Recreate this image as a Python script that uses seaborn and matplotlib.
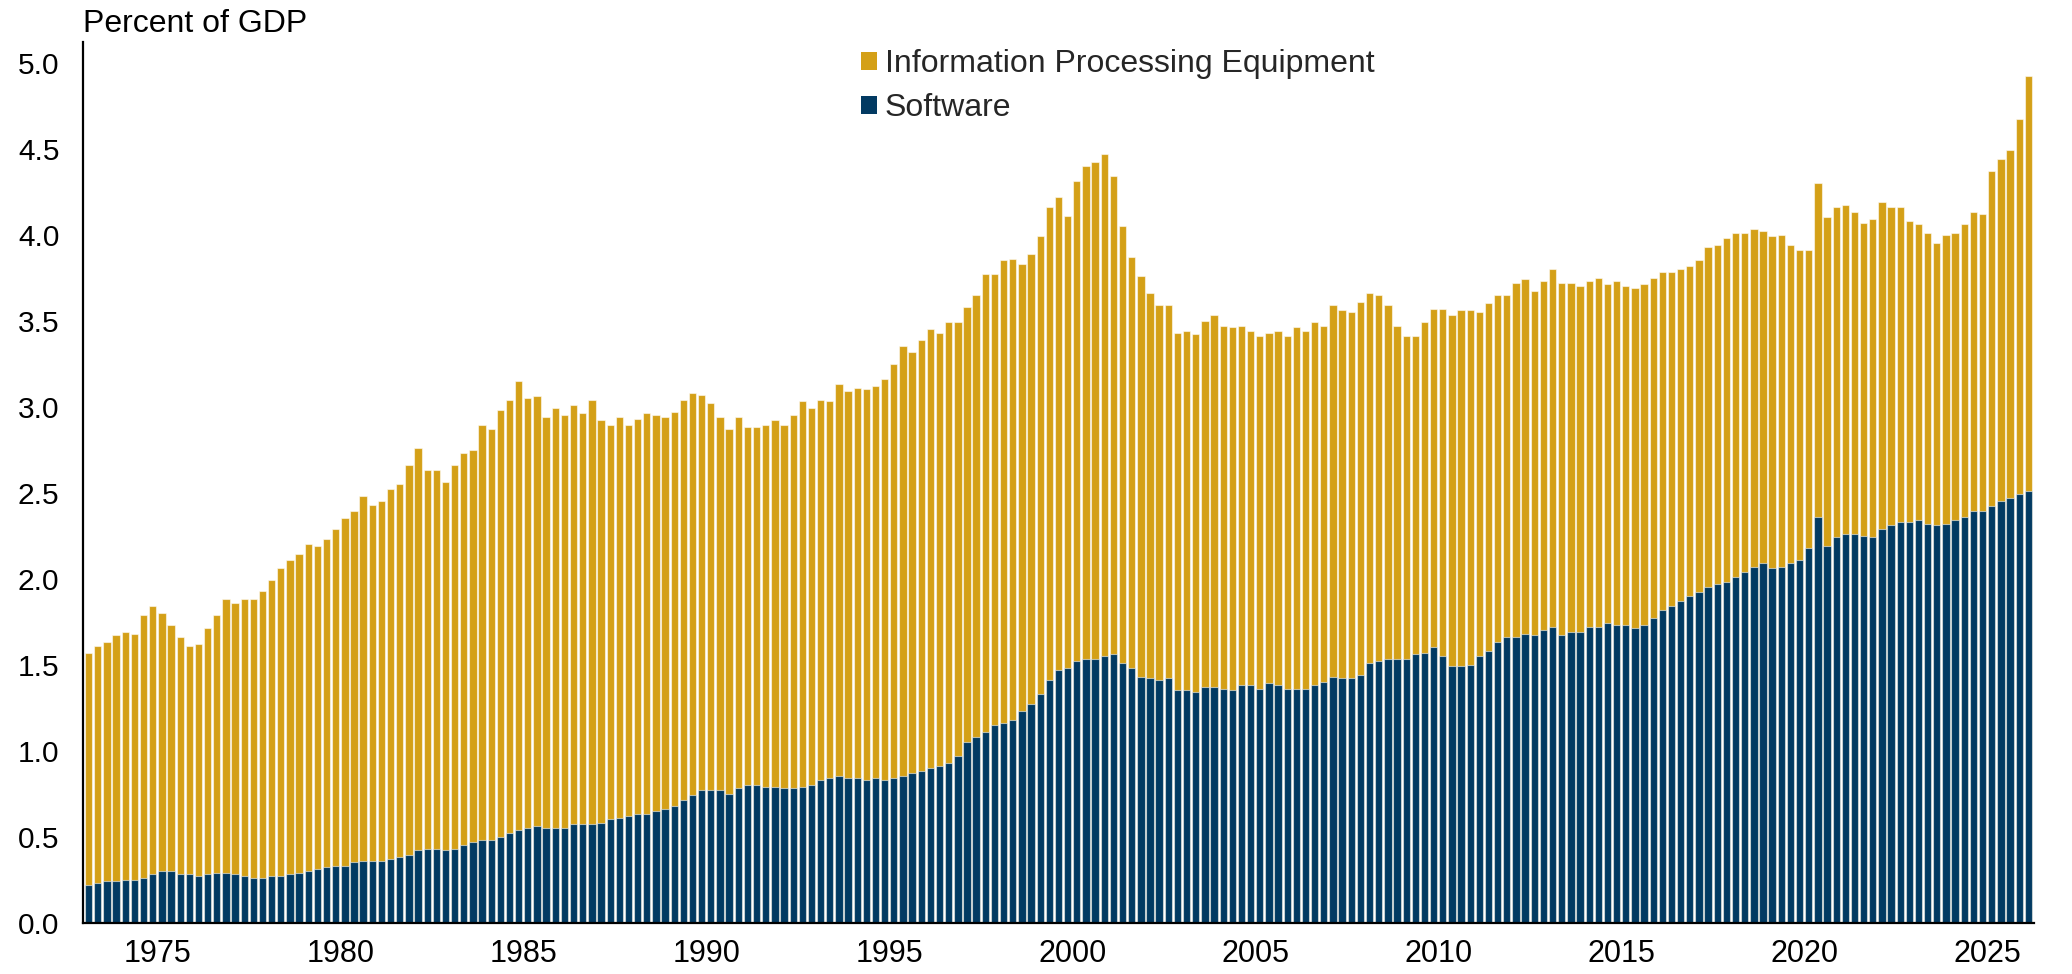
import numpy as np
import pandas as pd
import matplotlib
matplotlib.use("Agg")
import matplotlib.pyplot as plt
from matplotlib.patches import Patch
import seaborn as sns

# ---------------- data (percent of GDP, quarterly 1973Q1 - 2026Q1) ----------------
start_year = 1973
total = [  # Information processing equipment + software (top of stacked bar)
    1.57, 1.61, 1.63, 1.67, 1.69, 1.68, 1.79, 1.84, 1.80, 1.73,
    1.66, 1.61, 1.62, 1.71, 1.79, 1.88, 1.86, 1.88, 1.88, 1.93,
    1.99, 2.06, 2.11, 2.14, 2.20, 2.19, 2.23, 2.29, 2.35, 2.39,
    2.48, 2.43, 2.45, 2.52, 2.55, 2.66, 2.76, 2.63, 2.63, 2.56,
    2.66, 2.73, 2.75, 2.89,
    2.87, 2.98, 3.04, 3.15, 3.05, 3.06, 2.94, 2.99, 2.95, 3.01,
    2.96, 3.04, 2.92, 2.89, 2.94, 2.89, 2.93, 2.96, 2.95, 2.94,
    2.97, 3.04, 3.08, 3.07, 3.02, 2.94, 2.87, 2.94, 2.88, 2.88,
    2.89, 2.92, 2.89, 2.95, 3.03, 2.99, 3.04, 3.03, 3.13, 3.09,
    3.11, 3.10,
    3.12, 3.16, 3.25, 3.35, 3.32, 3.39, 3.45, 3.43, 3.49, 3.49,
    3.58, 3.65, 3.77, 3.77, 3.85, 3.86, 3.83, 3.89, 3.99, 4.16,
    4.22, 4.11, 4.31, 4.40, 4.42, 4.47, 4.34, 4.05, 3.87, 3.76,
    3.66, 3.59, 3.59, 3.43, 3.44, 3.42, 3.50, 3.53, 3.47, 3.46,
    3.47, 3.44, 3.41,
    3.43, 3.44, 3.41, 3.46, 3.44, 3.49, 3.47, 3.59, 3.56, 3.55,
    3.61, 3.66, 3.65, 3.59, 3.47, 3.41, 3.41, 3.49, 3.57, 3.57,
    3.53, 3.56, 3.56, 3.55, 3.60, 3.65, 3.65, 3.72, 3.74, 3.67,
    3.73, 3.80, 3.72, 3.72, 3.70, 3.73, 3.75, 3.71, 3.73, 3.70,
    3.69, 3.71,
    3.75, 3.78, 3.78, 3.80, 3.82, 3.85, 3.93, 3.94, 3.98, 4.01,
    4.01, 4.03, 4.02, 3.99, 4.00, 3.94, 3.91, 3.91, 4.30, 4.10,
    4.16, 4.17, 4.13, 4.07, 4.09, 4.19, 4.16, 4.16, 4.08, 4.06,
    4.01, 3.95, 4.00, 4.01, 4.06, 4.13, 4.12, 4.37, 4.44, 4.49,
    4.67, 4.92,
]
software = [
    0.22, 0.23, 0.24, 0.24, 0.25, 0.25, 0.26, 0.28, 0.30, 0.30,
    0.28, 0.28, 0.27, 0.28, 0.29, 0.29, 0.28, 0.27, 0.26, 0.26,
    0.27, 0.27, 0.28, 0.29, 0.30, 0.31, 0.32, 0.33, 0.33, 0.35,
    0.36, 0.36, 0.36, 0.37, 0.38, 0.39, 0.42, 0.43, 0.43, 0.42,
    0.43, 0.45, 0.47,
    0.48, 0.48, 0.50, 0.52, 0.54, 0.55, 0.56, 0.55, 0.55, 0.55,
    0.57, 0.57, 0.57, 0.58, 0.60, 0.61, 0.62, 0.63, 0.63, 0.65,
    0.66, 0.68, 0.71, 0.74, 0.77, 0.77, 0.77, 0.75, 0.78, 0.80,
    0.80, 0.79, 0.79, 0.78, 0.78, 0.79, 0.80, 0.83, 0.84, 0.85,
    0.84, 0.84, 0.83,
    0.84, 0.83, 0.84, 0.85, 0.87, 0.88, 0.90, 0.91, 0.93, 0.97,
    1.05, 1.08, 1.11, 1.15, 1.16, 1.18, 1.23, 1.27, 1.33, 1.41,
    1.47, 1.48, 1.52, 1.53, 1.53, 1.55, 1.56, 1.51, 1.48, 1.43,
    1.42, 1.41, 1.42, 1.35, 1.35, 1.34, 1.37, 1.37, 1.36, 1.35,
    1.38, 1.38, 1.36,
    1.39, 1.38, 1.36, 1.36, 1.36, 1.38, 1.40, 1.43, 1.42, 1.42,
    1.44, 1.51, 1.52, 1.53, 1.53, 1.53, 1.56, 1.57, 1.60, 1.55,
    1.49, 1.49, 1.50, 1.55, 1.58, 1.63, 1.66, 1.66, 1.68, 1.67,
    1.70, 1.72, 1.67, 1.69, 1.69, 1.72, 1.72, 1.74, 1.73, 1.73,
    1.71, 1.73,
    1.77, 1.82, 1.84, 1.87, 1.90, 1.92, 1.95, 1.97, 1.98, 2.01,
    2.04, 2.07, 2.09, 2.06, 2.07, 2.09, 2.11, 2.18, 2.36, 2.19,
    2.24, 2.26, 2.26, 2.25, 2.24, 2.29, 2.31, 2.33, 2.33, 2.34,
    2.32, 2.31, 2.32, 2.34, 2.36, 2.39, 2.39, 2.42, 2.45, 2.47,
    2.49, 2.51,
]
tick_years = [1975, 1980, 1985, 1990, 1995, 2000, 2005, 2010, 2015, 2020, 2025]
y_ticks = [0.0, 0.5, 1.0, 1.5, 2.0, 2.5, 3.0, 3.5, 4.0, 4.5, 5.0]
series_labels = ["Information Processing Equipment", "Software"]
y_title = "Percent of GDP"

quarters = [f"{start_year + i // 4}Q{i % 4 + 1}" for i in range(len(total))]
df = pd.DataFrame({"quarter": quarters, "total": total, "software": software})

# ---------------- style ----------------
GOLD = "#D4A017"
NAVY = "#023A62"
sns.set_theme(style="white")
plt.rcParams["font.family"] = ["Liberation Sans", "DejaVu Sans"]

W, H = 2072, 974
fig = plt.figure(figsize=(W / 100, H / 100), dpi=100)
ax = fig.add_axes([83 / W, 51.5 / H, (2034 - 83) / W, (922.5 - 42) / H])

edge = (1, 1, 1, 0.55)
sns.barplot(data=df, x="quarter", y="total", color=GOLD, saturation=1,
            width=0.8, edgecolor=edge, linewidth=0.8, errorbar=None, ax=ax)
sns.barplot(data=df, x="quarter", y="software", color=NAVY, saturation=1,
            width=0.8, edgecolor=edge, linewidth=0.8, errorbar=None, ax=ax)

n = len(total)
ax.set_xlim(-0.62, n - 1 + 0.62)
ax.set_ylim(0, 5.12)
ax.set_xticks([(y - start_year) * 4 - 0.5 for y in tick_years])
ax.set_xticklabels([str(y) for y in tick_years])
ax.set_yticks(y_ticks)
ax.set_yticklabels([f"{v:.1f}" for v in y_ticks])
ax.tick_params(axis="x", length=0, pad=12, labelsize=22, colors="black")
ax.tick_params(axis="y", length=0, pad=17, labelsize=21.5, colors="black")
ax.set_xlabel("")
ax.set_ylabel("")
for s in ["top", "right"]:
    ax.spines[s].set_visible(False)
for s in ["left", "bottom"]:
    ax.spines[s].set_color("black")
    ax.spines[s].set_linewidth(1.6)
ax.grid(False)

fig.text(83 / W, 1 - 32 / H, y_title, fontsize=23, ha="left", va="baseline", color="black")

handles = [Patch(facecolor=GOLD, edgecolor="none"), Patch(facecolor=NAVY, edgecolor="none")]
fig.legend(handles, series_labels, loc="upper left",
           bbox_to_anchor=(861 / W, 1 - 49 / H), bbox_transform=fig.transFigure,
           frameon=False, fontsize=23, handlelength=0.5, handleheight=0.5,
           handletextpad=0.25, labelspacing=0.45, borderpad=0, borderaxespad=0)

fig.savefig("out.png", dpi=100)
